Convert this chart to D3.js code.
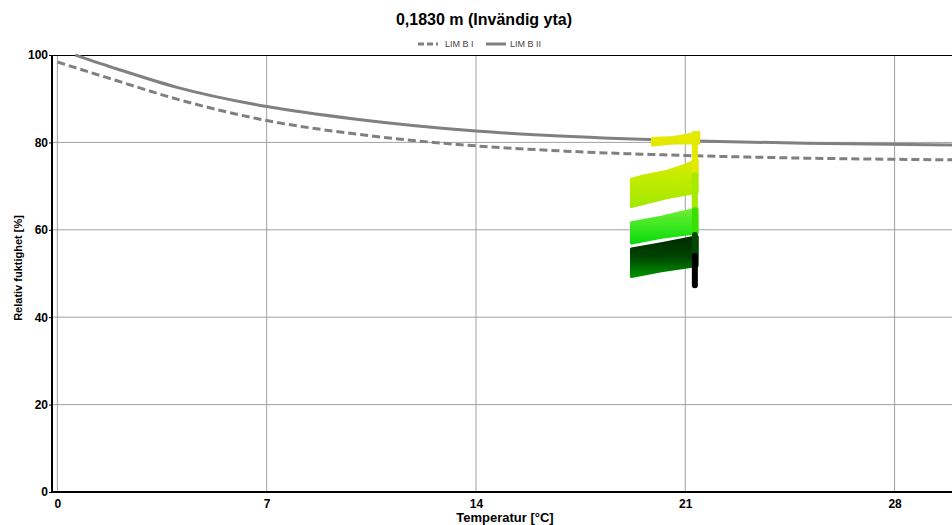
<!DOCTYPE html>
<html>
<head>
<meta charset="utf-8">
<script src="https://cdn.jsdelivr.net/npm/d3@7"></script>
<style>
body { margin: 0; background: #fff; }
svg { font-family: "Liberation Sans", Arial, sans-serif; }
</style>
</head>
<body>
<script>
// axis ticks
var xTicks = [0, 7, 14, 21, 28];
var yTicks = [0, 20, 40, 60, 80, 100];

// limit curves [temperature, RH]
var limB1 = [[0, 98.4], [2, 94.1], [4, 89.9], [7, 85.0], [10, 81.9], [14, 79.2], [17, 78.0], [21, 77.0], [25, 76.4], [30, 76.0]];
var limB2 = [[0.6, 100], [2, 96.8], [4, 92.6], [7, 88.2], [10, 85.3], [14, 82.6], [17, 81.4], [21, 80.4], [25, 79.8], [30, 79.4]];

// point clouds (outline of each period, [temperature, RH])
var cloudA = [[19.9, 80.9], [20.6, 81.1], [21.0, 81.6], [21.45, 82.3], [21.45, 79.8], [21.0, 79.9], [20.5, 79.8], [19.9, 79.4]];
var cloudB = [[19.2, 71.6], [19.6, 72.3], [20.4, 73.4], [21.0, 74.8], [21.4, 76.0], [21.4, 68.6], [20.4, 67.4], [19.6, 66.0], [19.2, 65.3]];
var cloudC = [[19.2, 61.6], [20.2, 62.9], [21.4, 64.8], [21.4, 59.3], [20.2, 58.3], [19.2, 57.0]];
var cloudD = [[19.2, 55.6], [20.2, 56.8], [21.4, 58.4], [21.4, 51.8], [20.2, 50.6], [19.2, 49.3]];

// vertical run at the warm end [temperature, RH top, RH bottom]
var riseT = 21.32;
var riseRH = [[82.0, 72.5], [72.5, 64.5], [64.5, 58.8], [58.8, 54.0], [54.0, 47.3]];

var W = 952, H = 525;
var svg = d3.select('body').append('svg')
    .attr('width', W)
    .attr('height', H);

var x = d3.scaleLinear().domain([-0.18, 30]).range([52, 954.4]);
var y = d3.scaleLinear().domain([0, 100]).range([492, 55]);

var grid = svg.append('g');
grid.selectAll('line.vx')
    .data(xTicks)
  .enter().append('line')
    .attr('x1', x).attr('x2', x)
    .attr('y1', y(100)).attr('y2', y(0))
    .attr('stroke', '#a0a0a0').attr('stroke-width', 1);
grid.selectAll('line.hy')
    .data(yTicks.filter(function(d) { return d > 0 && d < 100; }))
  .enter().append('line')
    .attr('x1', 52).attr('x2', W)
    .attr('y1', y).attr('y2', y)
    .attr('stroke', '#a0a0a0').attr('stroke-width', 1);

// top border
svg.append('line')
    .attr('x1', 52).attr('x2', W)
    .attr('y1', y(100) + 0.5).attr('y2', y(100) + 0.5)
    .attr('stroke', '#000').attr('stroke-width', 1);

var line = d3.line()
    .x(function(d) { return x(d[0]); })
    .y(function(d) { return y(d[1]); })
    .curve(d3.curveMonotoneX);

svg.append('path')
    .attr('d', line(limB1))
    .attr('fill', 'none')
    .attr('stroke', '#808080')
    .attr('stroke-width', 3)
    .attr('stroke-dasharray', '8,4');
svg.append('path')
    .attr('d', line(limB2))
    .attr('fill', 'none')
    .attr('stroke', '#808080')
    .attr('stroke-width', 3);

// clouds
var clouds = [cloudA, cloudB, cloudC, cloudD];
var cloudColors = [
    ['#e6e800', '#e6e800', '#e2e800'],
    ['#dcea00', '#bcec00', '#a4e800'],
    ['#70ee34', '#3ce820', '#0cdc0c'],
    ['#002a00', '#004400', '#009200']
];
var defs = svg.append('defs');
cloudColors.forEach(function(c, i) {
    var g = defs.append('linearGradient')
        .attr('id', 'cg' + i)
        .attr('gradientUnits', 'userSpaceOnUse')
        .attr('x1', 0).attr('x2', 0)
        .attr('y1', y(d3.max(clouds[i], function(p) { return p[1]; })))
        .attr('y2', y(d3.min(clouds[i], function(p) { return p[1]; })));
    c.forEach(function(col, j) {
        g.append('stop').attr('offset', j / (c.length - 1)).attr('stop-color', col);
    });
});
var poly = d3.line()
    .x(function(d) { return x(d[0]); })
    .y(function(d) { return y(d[1]); })
    .curve(d3.curveLinearClosed);
svg.selectAll('path.cloud')
    .data(clouds)
  .enter().append('path')
    .attr('class', 'cloud')
    .attr('d', poly)
    .attr('fill', function(d, i) { return 'url(#cg' + i + ')'; })
    .attr('stroke', function(d, i) { return 'url(#cg' + i + ')'; })
    .attr('stroke-width', 3)
    .attr('stroke-linejoin', 'round');

var riseColors = ['#e2ea00', '#a6ea00', '#3ae000', '#004a00', '#000000'];
svg.selectAll('line.rise')
    .data(riseRH)
  .enter().append('line')
    .attr('x1', x(riseT)).attr('x2', x(riseT))
    .attr('y1', function(d) { return y(d[0]); })
    .attr('y2', function(d) { return y(d[1]); })
    .attr('stroke', function(d, i) { return riseColors[i]; })
    .attr('stroke-width', 6)
    .attr('stroke-linecap', 'round');

// axes
var yAxis = svg.append('g')
    .attr('transform', 'translate(52,0)')
    .call(d3.axisLeft(y).tickValues(yTicks).tickSizeInner(3).tickSizeOuter(0).tickPadding(1));
var xAxis = svg.append('g')
    .attr('transform', 'translate(0,492)')
    .call(d3.axisBottom(x).tickValues(xTicks).tickSizeInner(0).tickSizeOuter(0).tickPadding(7));
[yAxis, xAxis].forEach(function(a) {
    a.select('.domain').remove();
    a.selectAll('line').attr('stroke', '#000');
    a.selectAll('text')
        .attr('fill', '#000')
        .style('font-size', '12px')
        .style('font-weight', 'bold')
        .style('font-family', '"Liberation Sans", Arial, sans-serif');
});
svg.append('line')
    .attr('x1', 52).attr('x2', 52)
    .attr('y1', y(100)).attr('y2', y(0) + 1)
    .attr('stroke', '#000').attr('stroke-width', 2);
svg.append('line')
    .attr('x1', 51).attr('x2', W)
    .attr('y1', y(0)).attr('y2', y(0))
    .attr('stroke', '#000').attr('stroke-width', 2);

// title
svg.append('text')
    .attr('x', 484).attr('y', 25)
    .attr('text-anchor', 'middle')
    .style('font-size', '16px')
    .style('font-weight', 'bold')
    .text('0,1830 m (Invändig yta)');

// legend
var legend = [
    {name: 'LIM B I', dash: '6,3', x: 418},
    {name: 'LIM B II', dash: null, x: 486}
];
var lg = svg.selectAll('g.leg')
    .data(legend)
  .enter().append('g')
    .attr('transform', function(d) { return 'translate(' + d.x + ',44)'; });
lg.append('line')
    .attr('x1', 0).attr('x2', 20)
    .attr('stroke', '#808080')
    .attr('stroke-width', 3)
    .attr('stroke-dasharray', function(d) { return d.dash; });
lg.append('text')
    .attr('x', function(d, i) { return i ? 24 : 27; })
    .attr('dy', '0.35em')
    .attr('fill', '#444')
    .style('font-size', '9px')
    .text(function(d) { return d.name; });

// axis titles
svg.append('text')
    .attr('transform', 'translate(22,268) rotate(-90)')
    .attr('text-anchor', 'middle')
    .attr('fill', '#000')
    .style('font-size', '11px')
    .style('font-weight', 'bold')
    .text('Relativ fuktighet [%]');
svg.append('text')
    .attr('x', 505).attr('y', 522)
    .attr('text-anchor', 'middle')
    .attr('fill', '#000')
    .style('font-size', '13px')
    .style('font-weight', 'bold')
    .text('Temperatur [°C]');
</script>
</body>
</html>
